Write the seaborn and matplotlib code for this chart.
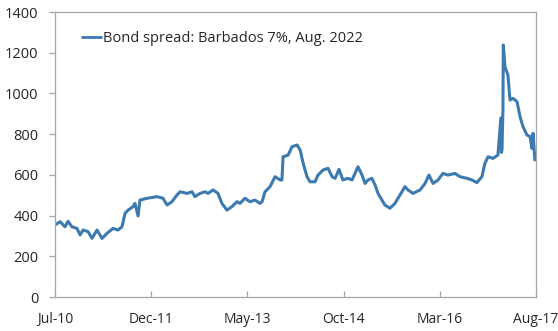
import numpy as np
import pandas as pd
import matplotlib
matplotlib.use("Agg")
import matplotlib.pyplot as plt
import seaborn as sns

# spread readings (bps)
dates = [
    "2010-07-01", "2010-07-28", "2010-08-24", "2010-09-09", "2010-09-30", "2010-10-27",
    "2010-11-13", "2010-11-29", "2010-12-26", "2011-01-16", "2011-02-12", "2011-03-11",
    "2011-04-07", "2011-05-09", "2011-06-05", "2011-06-26", "2011-07-13", "2011-07-29",
    "2011-08-25", "2011-09-04", "2011-09-21", "2011-10-01", "2011-11-08", "2012-01-01",
    "2012-02-02", "2012-02-24", "2012-03-21", "2012-04-17", "2012-05-04", "2012-06-10",
    "2012-07-07", "2012-07-23", "2012-08-19", "2012-09-15", "2012-10-01", "2012-10-28",
    "2012-11-24", "2012-12-15", "2013-01-11", "2013-02-07", "2013-03-06", "2013-03-22",
    "2013-04-18", "2013-05-15", "2013-06-11", "2013-07-08", "2013-07-19", "2013-08-04",
    "2013-08-31", "2013-09-27", "2013-10-24", "2013-11-03", "2013-11-09", "2013-12-06",
    "2013-12-27", "2014-01-23", "2014-02-09", "2014-02-25", "2014-03-18", "2014-04-03",
    "2014-04-30", "2014-05-16", "2014-06-12", "2014-07-09", "2014-07-31", "2014-08-16",
    "2014-09-06", "2014-09-27", "2014-10-24", "2014-11-15", "2014-12-01", "2014-12-17",
    "2015-01-08", "2015-01-24", "2015-02-09", "2015-03-02", "2015-03-19", "2015-04-04",
    "2015-04-25", "2015-05-11", "2015-06-07", "2015-07-04", "2015-07-31", "2015-08-27",
    "2015-09-12", "2015-10-09", "2015-11-16", "2015-12-13", "2016-01-03", "2016-01-25",
    "2016-02-21", "2016-03-18", "2016-04-14", "2016-05-22", "2016-06-18", "2016-07-26",
    "2016-08-21", "2016-09-17", "2016-10-14", "2016-10-30", "2016-11-16", "2016-12-12",
    "2017-01-08", "2017-01-24", "2017-01-27", "2017-01-30", "2017-02-04", "2017-02-06",
    "2017-02-15", "2017-03-03", "2017-03-14", "2017-03-30", "2017-04-21", "2017-05-07",
    "2017-05-23", "2017-06-13", "2017-06-30", "2017-07-10", "2017-07-16", "2017-07-26",
]
spread = [
    354, 370, 345, 372, 345, 337,
    305, 329, 321, 288, 329, 288,
    313, 337, 329, 345, 411, 427,
    444, 460, 398, 476, 485, 493,
    485, 452, 468, 501, 517, 509,
    517, 493, 509, 517, 509, 526,
    509, 460, 427, 444, 468, 460,
    485, 468, 476, 460, 468, 517,
    542, 591, 575, 575, 689, 697,
    738, 747, 722, 657, 591, 566,
    566, 599, 624, 632, 591, 583,
    627, 575, 583, 575, 607, 640,
    599, 558, 575, 583, 550, 509,
    476, 452, 436, 460, 501, 542,
    526, 509, 526, 558, 599, 558,
    575, 607, 599, 607, 591, 583,
    575, 562, 591, 657, 689, 681,
    697, 880, 710, 722, 919, 1238,
    1131, 1090, 968, 976, 959, 886,
    837, 796, 788, 730, 804, 673,
]

tick_dates = ["2010-07-01", "2011-12-01", "2013-05-01", "2014-10-01", "2016-03-01", "2017-08-01"]
tick_labels = ["Jul-10", "Dec-11", "May-13", "Oct-14", "Mar-16", "Aug-17"]
y_ticks = [0, 200, 400, 600, 800, 1000, 1200, 1400]

df = pd.DataFrame({"date": pd.to_datetime(dates), "spread": spread})

sns.set_style("white")
plt.rcParams["font.family"] = ["Open Sans", "DejaVu Sans"]

fig = plt.figure(figsize=(5.58, 3.31), dpi=100)
ax = fig.add_axes([0.0986, 0.1027, 0.862, 0.861])

line_color = "#3D7AB0"
sns.lineplot(data=df, x="date", y="spread", ax=ax, color=line_color, linewidth=2.2,
             label="Bond spread: Barbados 7%, Aug. 2022")

ax.set_xlim(pd.Timestamp("2010-07-01"), pd.Timestamp("2017-08-01"))
ax.set_ylim(0, 1400)
ax.set_xticks(pd.to_datetime(tick_dates))
ax.set_xticklabels(tick_labels)
ax.set_yticks(y_ticks)
ax.set_xlabel("")
ax.set_ylabel("")

for s in ax.spines.values():
    s.set_color("#A6A6A6")
    s.set_linewidth(0.9)

ax.tick_params(axis="x", direction="in", length=4, width=0.9, color="#A6A6A6",
               pad=11, labelsize=10, labelcolor="#262626")
ax.tick_params(axis="y", direction="out", length=4, width=0.9, color="#A6A6A6",
               pad=8, labelsize=10.5, labelcolor="#262626")
ax.tick_params(left=True, bottom=True)
# last label sits at the figure edge, nudge it in a little
ax.get_xticklabels()[-1].set_horizontalalignment("right")
ax.get_xticklabels()[-1].set_x(pd.Timestamp("2017-08-01"))
for lab in ax.get_xticklabels()[-1:]:
    lab.set_ha("center")
    lab.set_position((lab.get_position()[0] - 0, lab.get_position()[1]))

leg = ax.legend(loc="upper left", bbox_to_anchor=(0.045, 0.955), frameon=False,
                fontsize=10.5, handlelength=1.3, handletextpad=0.1, borderaxespad=0)
for h in leg.get_lines():
    h.set_linewidth(2)

fig.savefig("out.png", dpi=100)
